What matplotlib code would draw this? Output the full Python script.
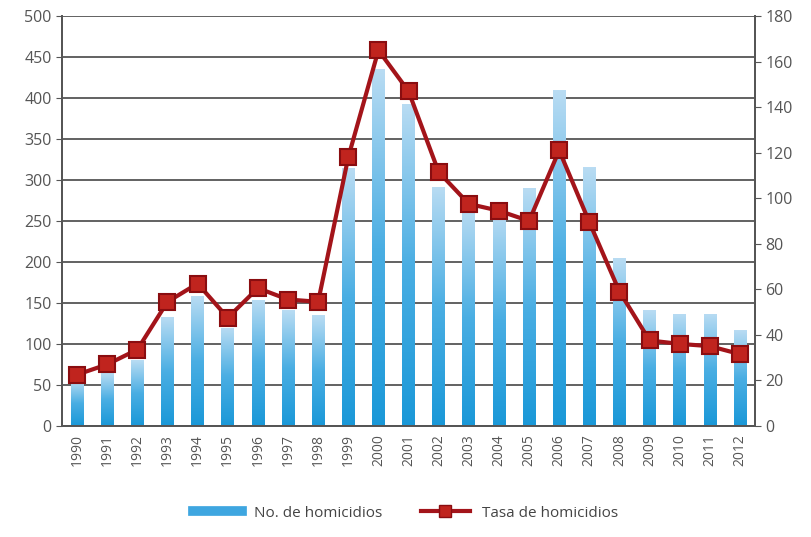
import matplotlib.pyplot as plt
import numpy as np
from matplotlib.lines import Line2D
from matplotlib.colors import LinearSegmentedColormap

plt.rcParams['font.family'] = ['Open Sans', 'DejaVu Sans']

# datos
anios = [str(a) for a in range(1990, 2013)]
homicidios = [55, 64, 80, 133, 158, 120, 154, 141, 135, 315, 435, 393,
              292, 265, 262, 290, 410, 316, 205, 141, 137, 137, 117]
tasa = [22.5, 27, 33.5, 54.5, 62.5, 47.5, 60.5, 55.5, 54.5, 118, 165, 147,
        111.5, 97.5, 94.5, 90, 121, 89.5, 59, 37.5, 36, 35, 31.5]

fig = plt.figure(figsize=(8.11, 5.37), dpi=100)
ax = fig.add_axes([0.0765, 0.207, 0.8545, 0.763])
ax2 = ax.twinx()

x = np.arange(len(anios))
gris = '#555555'

# barras con degradado (claro arriba, azul abajo)
cmap = LinearSegmentedColormap.from_list('azul', ['#1a98d8', '#4aaee3', '#b9dcf3'])
grad = np.linspace(0, 1, 256).reshape(-1, 1)
barras = ax.bar(x, homicidios, width=0.42, color='none', zorder=2)
for b in barras:
    im = ax.imshow(grad, cmap=cmap, origin='lower', aspect='auto',
                   extent=[b.get_x(), b.get_x() + b.get_width(), 0, b.get_height()],
                   zorder=2)
    im.set_clip_path(b)

ax.set_xlim(-0.5, len(anios) - 0.5)
ax.set_ylim(0, 500)
ax.set_yticks(np.arange(0, 501, 50))
ax.grid(axis='y', color='#555555', linewidth=1.3, zorder=1)
ax.set_axisbelow(True)
ax.set_xticks(x)
ax.set_xticklabels(anios, rotation=90, fontsize=10, color=gris)
ax.tick_params(axis='y', labelsize=11.5, colors=gris, length=4)
ax.tick_params(axis='x', length=0, pad=6)

# linea de tasa
ax2.plot(x, tasa, color='#a3141a', linewidth=3, marker='s', markersize=11,
         markerfacecolor='#c0241e', markeredgecolor='#8a0d10', markeredgewidth=1.5,
         zorder=5)
ax2.set_ylim(0, 180)
ax2.set_yticks(np.arange(0, 181, 20))
ax2.tick_params(axis='y', labelsize=11.5, colors=gris, length=4)

for a in (ax, ax2):
    a.spines['top'].set_visible(False)
    for s in ('left', 'right', 'bottom'):
        a.spines[s].set_color('#555555')
        a.spines[s].set_linewidth(1.3)

handles = [Line2D([], [], color='#3ea6e0', linewidth=7),
           Line2D([], [], color='#a3141a', linewidth=3, marker='s', markersize=9,
                  markerfacecolor='#c0241e', markeredgecolor='#8a0d10')]
fig.legend(handles, ['No. de homicidios', 'Tasa de homicidios'], loc='lower center',
           bbox_to_anchor=(0.5, 0.005), ncol=2, frameon=False, fontsize=11,
           labelcolor='#444444', handlelength=3.2, columnspacing=2.5)

fig.savefig('out.png', dpi=100)
